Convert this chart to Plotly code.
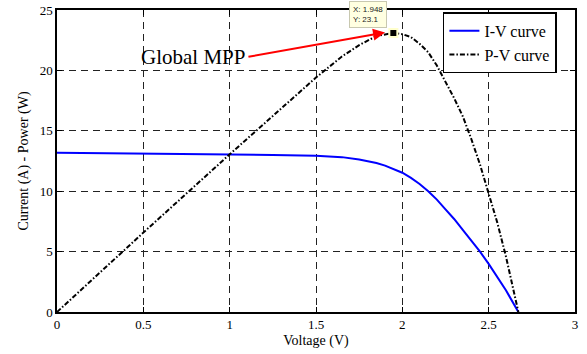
import plotly.graph_objects as go

# I-V curve (current in A vs voltage in V)
iv_voltage = [0, 0.25, 0.5, 0.75, 1.0, 1.25, 1.5, 1.65, 1.75, 1.85, 1.9, 1.948, 2.0, 2.05, 2.1, 2.15, 2.2, 2.25,
              2.3, 2.35, 2.4, 2.45, 2.5, 2.55, 2.6, 2.672]
iv_current = [13.19, 13.16, 13.13, 13.09, 13.05, 13.0, 12.94, 12.82, 12.62, 12.33, 12.12, 11.86, 11.53, 11.1, 10.6,
              10.0, 9.3, 8.5, 7.7, 6.8, 5.9, 4.99, 3.98, 2.92, 1.8, 0]

# P-V curve (power in W vs voltage in V)
pv_voltage = [0, 0.5, 1.0, 1.5, 1.65, 1.75, 1.85, 1.9, 1.948, 2.0, 2.05, 2.1, 2.15, 2.2, 2.25, 2.3, 2.35, 2.4,
              2.45, 2.5, 2.55, 2.6, 2.672]
pv_power = [0, 6.57, 13.05, 19.41, 21.15, 22.09, 22.85, 23.0, 23.1, 23.0, 22.76, 22.2, 21.5, 20.4, 19.1, 17.7,
            16.2, 14.3, 12.2, 9.9, 7.4, 4.6, 0]

# Global maximum power point
mpp_v = [1.948]
mpp_p = [23.1]

x_ticks = [0, 0.5, 1, 1.5, 2, 2.5, 3]
x_tick_labels = ["0", "0.5", "1", "1.5", "2", "2.5", "3"]
y_ticks = [0, 5, 10, 15, 20, 25]
y_tick_labels = ["0", "5", "10", "15", "20", "25"]

SERIF = "Liberation Serif, Times New Roman, serif"
SANS = "Liberation Sans, Arial, sans-serif"

fig = go.Figure()
fig.add_trace(go.Scatter(
    x=iv_voltage, y=iv_current, mode="lines", name="I-V curve",
    line=dict(color="#0000ff", width=2),
))
fig.add_trace(go.Scatter(
    x=pv_voltage, y=pv_power, mode="lines", name="P-V curve",
    line=dict(color="black", width=2, dash="5px,2px,1.5px,2px"),
))
fig.add_trace(go.Scatter(
    x=mpp_v, y=mpp_p, mode="markers", showlegend=False, cliponaxis=False,
    marker=dict(symbol="square", size=8, color="black", line=dict(color="#ffffcc", width=2)),
))

axis_common = dict(
    showline=True, linecolor="black", linewidth=1.5, mirror="ticks",
    ticks="inside", ticklen=5, tickcolor="black", tickwidth=1,
    showgrid=True, gridcolor="#222222", gridwidth=1, griddash="7px,5px",
    zeroline=False, automargin=False,
    tickfont=dict(family=SERIF, size=13, color="black"),
)

fig.update_xaxes(
    range=[0, 3], tickvals=x_ticks, ticktext=x_tick_labels,
    title=dict(text="Voltage (V)", font=dict(family=SERIF, size=14, color="black"), standoff=4),
    **axis_common,
)
fig.update_yaxes(
    range=[0, 25], tickvals=y_ticks, ticktext=y_tick_labels,
    title=dict(text="Current (A) - Power (W)", font=dict(family=SERIF, size=14, color="black"), standoff=8),
    **axis_common,
)

# Data tip
fig.add_annotation(
    x=mpp_v[0], y=mpp_p[0], xref="x", yref="y",
    text="X: 1.948<br>Y: 23.1", showarrow=False,
    xanchor="right", yanchor="bottom", xshift=-6, yshift=5, align="left",
    font=dict(family=SANS, size=8, color="#222222"),
    bgcolor="#ffffe1", bordercolor="#c8c8b0", borderwidth=1, borderpad=3,
)

# Global MPP label and arrow
fig.add_annotation(
    x=1.1, y=21.1, xref="x", yref="y", text="Global MPP", showarrow=False,
    xanchor="right", yanchor="middle",
    font=dict(family=SERIF, size=21, color="black"),
)
fig.add_annotation(
    x=1.9, y=23.14, xref="x", yref="y", ax=1.1, ay=21.1, axref="x", ayref="y",
    text="", showarrow=True, arrowhead=2, arrowsize=1.2, arrowwidth=2, arrowcolor="#ff0000",
)

fig.update_layout(
    width=587, height=354,
    margin=dict(l=57, r=12, t=10, b=42, autoexpand=False),
    paper_bgcolor="white", plot_bgcolor="white",
    legend=dict(
        x=0.745, y=0.992, xanchor="left", yanchor="top",
        bgcolor="white", bordercolor="black", borderwidth=1.5,
        font=dict(family=SERIF, size=16, color="black"),
        tracegroupgap=0, itemwidth=30,
    ),
)

fig.write_html("out.html")
